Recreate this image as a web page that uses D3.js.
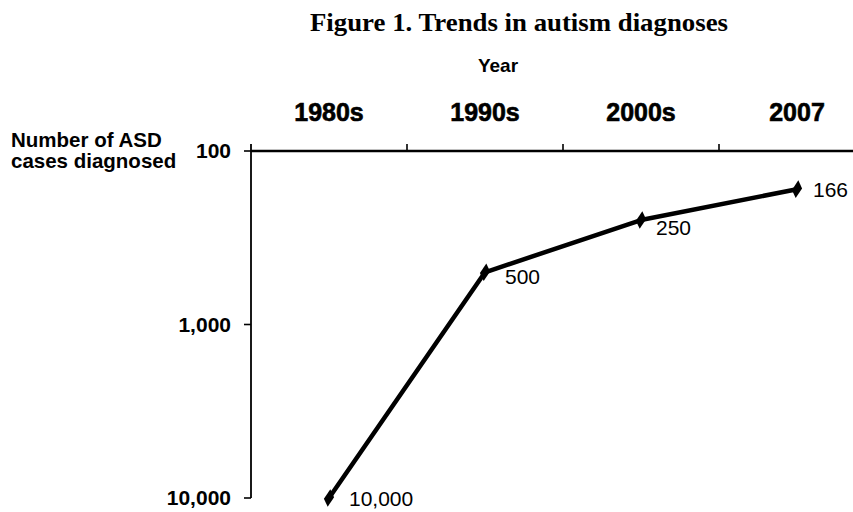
<!DOCTYPE html>
<html>
<head>
<meta charset="utf-8">
<script src="https://cdn.jsdelivr.net/npm/d3@7"></script>
<style>
  body { margin: 0; background: #fff; }
  svg { display: block; }
  text { font-family: "Liberation Sans", Arial, sans-serif; fill: #000; }
</style>
</head>
<body>
<svg id="chart" width="853" height="512"></svg>
<script>
// Chart data
const periods = ['1980s', '1990s', '2000s', '2007'];
const casesPerDiagnosis = [10000, 500, 250, 166];
const pointLabels = ['10,000', '500', '250', '166'];
const yTicks = [100, 1000, 10000];

// Label nudges next to each point (dx, dy from the marker)
const labelOffsets = [[20, 8], [20, 12], [15, 15], [16, 8]];

const svg = d3.select('#chart');

// Scales
const x = d3.scaleBand()
    .domain(periods)
    .range([251, 875]);

const y = d3.scaleLog()
    .domain([100, 10000])
    .range([151, 498]);

const cx = d => x(d) + x.bandwidth() / 2;

// Title
svg.append('text')
    .attr('x', 519)
    .attr('y', 31)
    .attr('text-anchor', 'middle')
    .attr('textLength', 418)
    .attr('lengthAdjust', 'spacingAndGlyphs')
    .style('font-family', '"Liberation Serif", "Times New Roman", serif')
    .style('font-weight', 'bold')
    .style('font-size', '25px')
    .text('Figure 1. Trends in autism diagnoses');

// X axis title
svg.append('text')
    .attr('x', 498)
    .attr('y', 72)
    .attr('text-anchor', 'middle')
    .style('font-weight', 'bold')
    .style('font-size', '19px')
    .text('Year');

// Y axis title (two lines)
const yTitle = svg.append('text')
    .style('font-weight', 'bold')
    .style('font-size', '20.5px');
yTitle.append('tspan').attr('x', 11).attr('y', 147).text('Number of ASD');
yTitle.append('tspan').attr('x', 11).attr('y', 168).text('cases diagnosed');

// Top axis: line plus ticks on band edges
svg.append('line')
    .attr('x1', 251).attr('x2', 853)
    .attr('y1', y(100)).attr('y2', y(100))
    .attr('stroke', '#000')
    .attr('stroke-width', 2.4);

svg.selectAll('.x-tick')
    .data(periods.slice(1))
    .enter()
    .append('line')
    .attr('class', 'x-tick')
    .attr('x1', d => x(d)).attr('x2', d => x(d))
    .attr('y1', y(100) - 7).attr('y2', y(100))
    .attr('stroke', '#000')
    .attr('stroke-width', 1.6);

svg.selectAll('.x-label')
    .data(periods)
    .enter()
    .append('text')
    .attr('class', 'x-label')
    .attr('x', d => cx(d))
    .attr('y', 121)
    .attr('text-anchor', 'middle')
    .style('font-weight', 'bold')
    .style('font-size', '25px')
    .style('stroke', '#000')
    .style('stroke-width', 0.6)
    .text(d => d);

// Left axis
svg.append('line')
    .attr('x1', 251).attr('x2', 251)
    .attr('y1', y(100) - 7).attr('y2', y(10000))
    .attr('stroke', '#000')
    .attr('stroke-width', 1.8);

svg.selectAll('.y-tick')
    .data(yTicks)
    .enter()
    .append('line')
    .attr('class', 'y-tick')
    .attr('x1', 244).attr('x2', 251)
    .attr('y1', d => y(d)).attr('y2', d => y(d))
    .attr('stroke', '#000')
    .attr('stroke-width', 1.6);

svg.selectAll('.y-label')
    .data(yTicks)
    .enter()
    .append('text')
    .attr('class', 'y-label')
    .attr('x', 231)
    .attr('y', d => y(d) + 7)
    .attr('text-anchor', 'end')
    .style('font-weight', 'bold')
    .style('font-size', '21px')
    .text(d => d3.format(',')(d));

// Series
const points = periods.map((p, i) => ({
    period: p,
    value: casesPerDiagnosis[i],
    label: pointLabels[i],
    offset: labelOffsets[i]
}));

const line = d3.line()
    .x(d => cx(d.period))
    .y(d => y(d.value));

svg.append('path')
    .datum(points)
    .attr('d', line)
    .attr('fill', 'none')
    .attr('stroke', '#000')
    .attr('stroke-width', 4.5)
    .attr('stroke-linejoin', 'round');

svg.selectAll('.marker')
    .data(points)
    .enter()
    .append('path')
    .attr('class', 'marker')
    .attr('d', d3.symbol().type(d3.symbolDiamond).size(90))
    .attr('transform', d => `translate(${cx(d.period)},${y(d.value)}) rotate(45) scale(0.85,1.15) rotate(-45)`)
    .attr('fill', '#000');

svg.selectAll('.point-label')
    .data(points)
    .enter()
    .append('text')
    .attr('class', 'point-label')
    .attr('x', d => cx(d.period) + d.offset[0])
    .attr('y', d => y(d.value) + d.offset[1])
    .style('font-size', '21px')
    .text(d => d.label);
</script>
</body>
</html>
